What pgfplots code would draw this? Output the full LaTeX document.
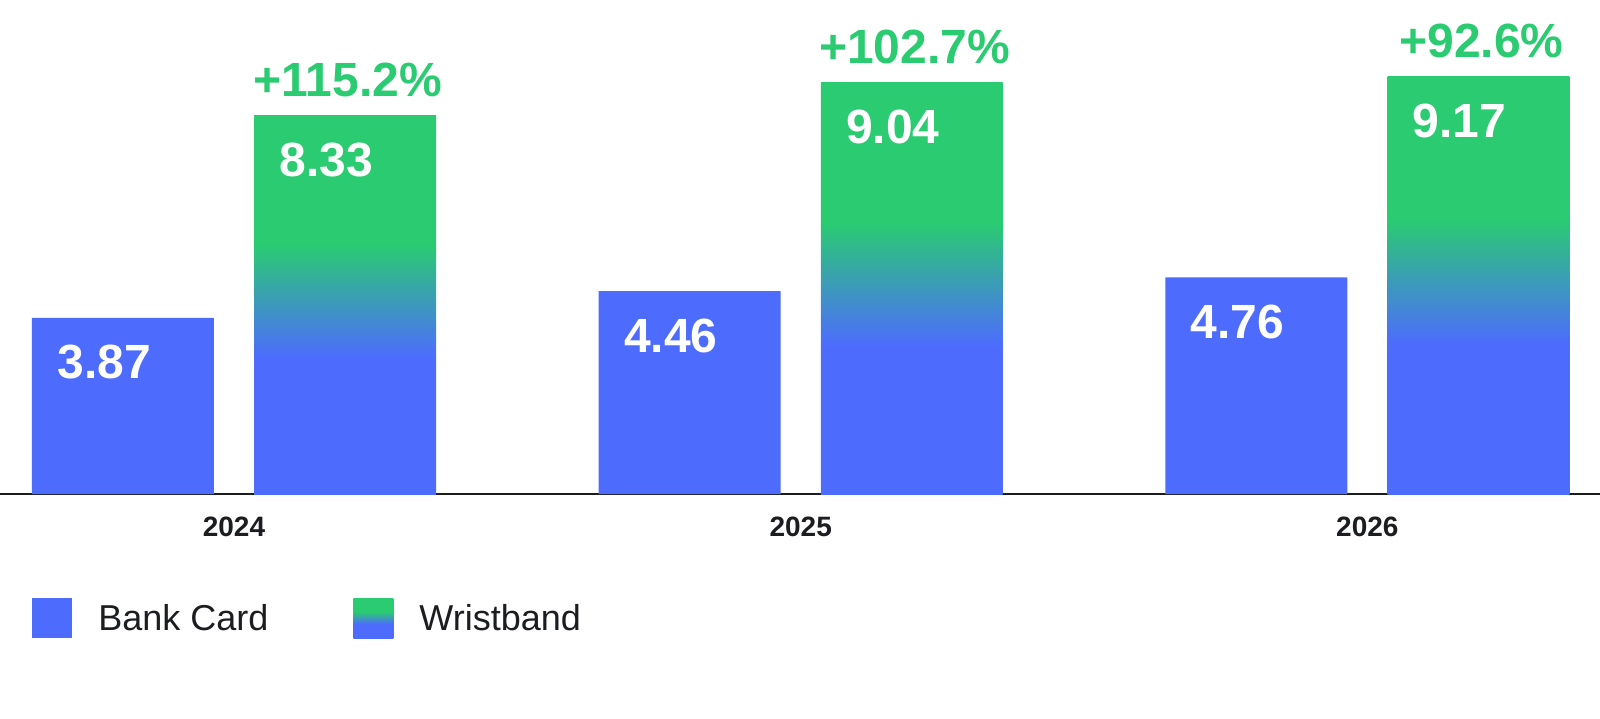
\documentclass[border=0pt]{standalone}
\usepackage{pgfplots}
\pgfplotsset{compat=1.18}
\usepackage{fontspec}
\setmainfont{Liberation Sans}

\definecolor{cardblue}{RGB}{77,108,254}
\definecolor{bandgreen}{RGB}{42,203,113}
\definecolor{inkdark}{RGB}{28,29,33}

% green on top, blue at the bottom, blend in the middle of the bar
\pgfdeclareverticalshading{wrist}{100bp}{color(0bp)=(cardblue); color(25bp)=(cardblue); color(43bp)=(cardblue); color(58bp)=(bandgreen); color(75bp)=(bandgreen); color(100bp)=(bandgreen)}

\pgfplotsset{
    valuelabel/.style={nodes near coords, point meta=explicit symbolic,
        nodes near coords style={anchor=base west, inner sep=0pt, xshift=#1, yshift=-30.5pt,
            text=white, font=\fontsize{24}{28}\selectfont\bfseries}},
    bandbar/.style={ybar, bar width=0.321, bar shift=0.196, draw=none, shade, shading=wrist,
        valuelabel=22.5pt},
}

\begin{document}
\begin{tikzpicture}
\path[use as bounding box] (0pt,-112pt) rectangle (800pt,247pt);
\begin{axis}[
    at={(0pt,0pt)}, anchor=south west,
    scale only axis, width=800pt, height=247pt,
    xmin=-0.4129, xmax=2.4105, ymin=0, ymax=10.86,
    axis x line*=bottom, axis y line=none,
    x axis line style={draw=inkdark, line width=1pt},
    xtick={0,1,2}, xticklabels={2024,2025,2026},
    major tick length=0pt,
    xticklabel style={font=\fontsize{14}{16}\selectfont\bfseries, text=inkdark, anchor=base, inner sep=0pt, yshift=-21pt},
    ytick=\empty,
    clip=false,
    legend columns=2,
    legend cell align=left,
    legend style={at={(0.02,-0.2105)}, anchor=north west, draw=none, fill=none,
        inner sep=0pt, font=\fontsize{18}{22}\selectfont, text=inkdark,
        nodes={inner sep=0pt},
        /tikz/every odd column/.append style={column sep=13pt},
        /tikz/every even column/.append style={column sep=42.5pt}},
]

% nodes near coords sit at the group centre, so the shifts include the bar shift
\addplot[ybar, bar width=0.321, bar shift=-0.196, fill=cardblue, draw=none,
    valuelabel=-88.5pt,
    legend image code/.code={\fill[cardblue] (0pt,-9.5pt) rectangle (20pt,10.5pt);}]
coordinates {(0,3.87) [3.87] (1,4.46) [4.46] (2,4.76) [4.76]};
\addlegendentry{Bank Card}

% one path per wristband bar, so that each bar gets its own gradient
\addplot[bandbar,
    legend image code/.code={\shade[shading=wrist] (0pt,-9.5pt) rectangle (20pt,10.5pt);}]
coordinates {(0,8.33) [8.33]};
\addlegendentry{Wristband}
\addplot[bandbar, forget plot] coordinates {(1,9.04) [9.04]};
\addplot[bandbar, forget plot] coordinates {(2,9.17) [9.17]};

% growth labels above the wristband bars
\addplot[ybar, bar width=0.321, bar shift=0.196, draw=none, fill=none, forget plot,
    nodes near coords, point meta=explicit symbolic,
    nodes near coords style={anchor=base, inner sep=0pt, xshift=57pt, yshift=9.5pt,
        text=bandgreen, font=\fontsize{24}{28}\selectfont\bfseries}]
coordinates {(0,8.33) [+115.2\%] (1,9.04) [+102.7\%] (2,9.17) [+92.6\%]};

\end{axis}
\end{tikzpicture}
\end{document}
